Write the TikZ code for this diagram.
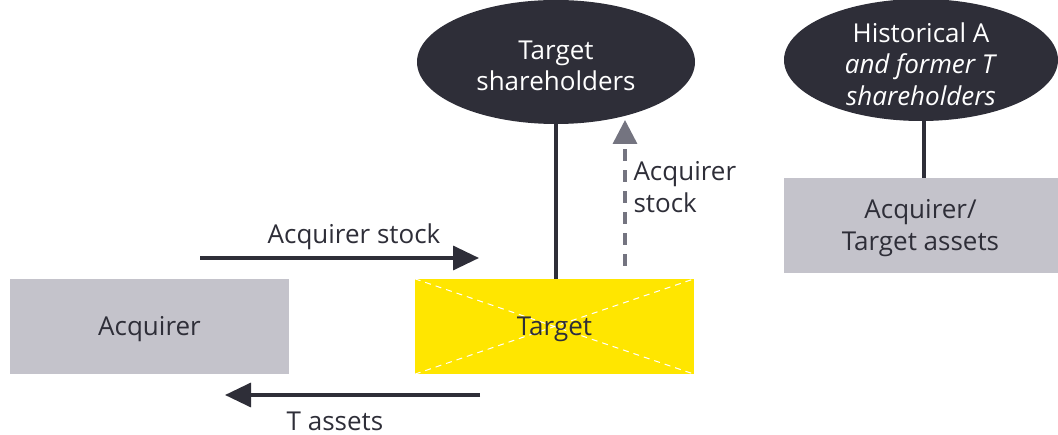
\documentclass[tikz,border=0pt]{standalone}
\usepackage{fontspec}
\setmainfont{Open Sans}
\usetikzlibrary{shapes.geometric,arrows.meta}
\definecolor{eydark}{HTML}{2E2E38}
\definecolor{eygray}{HTML}{C4C3CB}
\definecolor{eyyellow}{HTML}{FFE600}
\definecolor{eymid}{HTML}{747480}
\begin{document}
\begin{tikzpicture}[x=1pt,y=-1pt,
  txt/.style={font=\fontsize{26}{31.5}\selectfont, text=eydark},
  graybox/.style={fill=eygray, draw=none, minimum width=279pt, minimum height=95pt},
  darkell/.style={ellipse, fill=eydark, draw=none, inner sep=0pt},
  elltxt/.style={font=\fontsize{26}{31.5}\selectfont, text=white, align=center},
  conn/.style={eydark, line width=3.5pt},
  flow/.style={eydark, line width=3.5pt, -{Triangle[length=26pt,width=24pt]}},
]
\useasboundingbox (0,0) rectangle (1058,435);
\node[graybox] (acq) at (149.5,327) {};
\node[txt] (acqlabel) at (149.5,329) {Acquirer};
\node[fill=eyyellow, draw=none, minimum width=279pt, minimum height=95pt] (tgt) at (554.5,326.5) {};
\draw[white, dashed, line width=1pt, dash pattern=on 6pt off 5pt] (tgt.north west) -- (tgt.south east);
\draw[white, dashed, line width=1pt, dash pattern=on 6pt off 5pt] (tgt.south west) -- (tgt.north east);
\node[txt] (tgtlabel) at (554.5,329) {Target};
\node[darkell, minimum width=278pt, minimum height=124pt] (tsh) at (556,62) {};
\node[elltxt] (tshlabel) at (556,66) {Target\\shareholders};
\node[darkell, minimum width=274pt, minimum height=122pt] (hist) at (921,60) {};
\node[elltxt] (histlabel) at (921,64) {Historical A\\\textit{and former T}\\\textit{shareholders}};
\node[graybox, minimum width=274pt] (ata) at (920.5,225.5) {};
\node[txt, align=center] (atalabel) at (920.5,228) {Acquirer/\\Target assets};
\draw[conn] (hist.south -| ata.north) ++(3.5,0) coordinate (hb) -- (hb |- ata.north);
\draw[conn] (tsh.south) -- (tgt.north -| tsh.south);
\coordinate (dsb) at (625,266);
\coordinate (dst) at (625,120);
\draw[eymid, line width=3.5pt, dash pattern=on 12pt off 9pt, -{Triangle[length=24pt,width=24pt]}] (dsb) -- (dst);
\node[txt, align=left, anchor=west] (dslab) at (630,187) {Acquirer\\stock};
\coordinate (a1s) at (200,258);
\coordinate (a1e) at (479,258);
\draw[flow] (a1s) -- (a1e);
\node[txt] (a1lab) at (354,237) {Acquirer stock};
\coordinate (a2s) at (480,395);
\coordinate (a2e) at (225,395);
\draw[flow] (a2s) -- (a2e);
\node[txt, inner sep=0pt] (a2lab) at (335,421) {T assets};
\end{tikzpicture}
\end{document}
